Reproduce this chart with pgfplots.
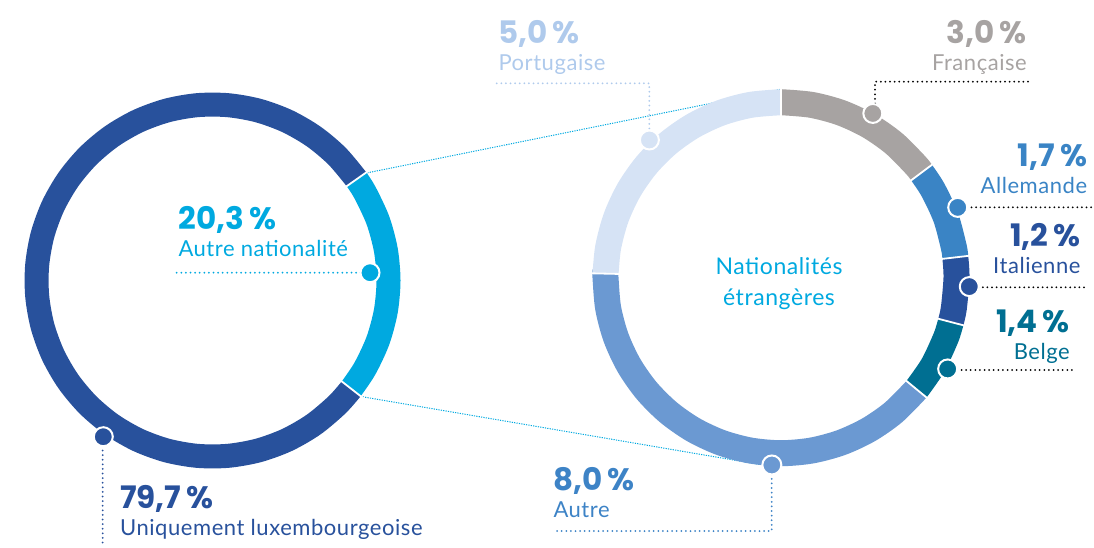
\documentclass[border=0pt]{standalone}
\usepackage{pgfplots}
\pgfplotsset{compat=1.18}
\usepackage{fontspec}
\setmainfont{Lato}[LetterSpace=2.5]
\newfontfamily\numfont{Poppins}

\definecolor{lux}{HTML}{28519C}
\definecolor{other}{HTML}{00A9E0}
\definecolor{portu}{HTML}{D6E3F5}
\definecolor{portutxt}{HTML}{AFCAEC}
\definecolor{fra}{HTML}{A7A3A2}
\definecolor{ger}{HTML}{3A84C5}
\definecolor{ita}{HTML}{28519C}
\definecolor{bel}{HTML}{006F92}
\definecolor{aut}{HTML}{6B99D2}
\definecolor{auttxt}{HTML}{3D83C6}
\definecolor{lead}{HTML}{B8B5B4}

\pgfplotsset{
  ring/.style={hide axis, anchor=origin, x=1pt, y=1pt,
    xmin=-200, xmax=200, ymin=-200, ymax=200, clip=false},
  seg/.style={data cs=polar, smooth, line cap=butt, no markers},
  sep/.style={data cs=polar, white, line width=1.8pt, no markers},
  dot/.style={data cs=polar, only marks, mark=*, mark size=9.5pt,
    mark options={fill=#1, draw=white, line width=2pt}},
}
\tikzset{
  lead/.style={line width=2pt, dash pattern=on 0pt off 4.6pt, line cap=round},
  link/.style={other, line width=1pt, dash pattern=on 1.2pt off 1.2pt},
  num/.style={inner sep=0pt, font=\numfont\bfseries\fontsize{31}{31}\selectfont},
  lbl/.style={inner sep=0pt, font=\fontsize{22}{22}\selectfont},
}

\begin{document}
\begin{tikzpicture}[x=1pt, y=-1pt]
% links between the two rings
\draw[link] (365,173.3) -- (781,89.2);
\draw[link] (358,396) -- (760,464.5);
% leader lines
\draw[lead, other] (176.7,272.7) -- (370,272.7);
\draw[lead, lux] (102.7,436.7) -- (102.7,547);
\draw[lead, portutxt] (496.7,83.3) -- (649.3,83.3) -- (649.3,140);
\draw[lead, lead] (1028,81.7) -- (875,81.7) -- (875,113);
\draw[lead, lead] (957.7,207.3) -- (1091.7,207.3);
\draw[lead, lead] (969,287.3) -- (1085,287.3);
\draw[lead, lead] (947.7,370) -- (1073.3,370);
\draw[lead, auttxt] (771.7,465) -- (771.7,531) -- (553,531);

% left ring: 79,7 % / 20,3 % (angles = share of 360 deg)
\begin{axis}[ring, at={(212.5pt,-280.5pt)}]
\addplot[seg, lux, line width=24pt] coordinates {
  (35.1,176) (45,176) (55,176) (65,176) (75,176) (85,176) (95,176)
  (105,176) (115,176) (125,176) (135,176) (145,176) (155,176) (165,176)
  (175,176) (185,176) (195,176) (205,176) (215,176) (225,176) (235,176)
  (245,176) (255,176) (265,176) (275,176) (285,176) (295,176) (305,176)
  (315,176) (322.02,176)};
\addplot[seg, other, line width=24pt] coordinates {
  (-37.98,176) (-30,176) (-20,176) (-10,176) (0,176) (10,176) (20,176)
  (30,176) (35.1,176)};
\addplot[sep] coordinates {(35.1,160) (35.1,192)};
\addplot[sep] coordinates {(-37.98,160) (-37.98,192)};
\addplot[dot=other] coordinates {(2.84,157.7)};
\addplot[dot=lux] coordinates {(235.04,190.6)};
\end{axis}

% right ring: 3,0 / 1,7 / 1,2 / 1,4 / 8,0 / 5,0 of 20,3 %
\begin{axis}[ring, at={(781pt,-277.7pt)}]
\addplot[seg, fra, line width=26pt] coordinates {
  (90,175.5) (80,175.5) (70,175.5) (60,175.5) (50,175.5) (40,175.5) (36.8,175.5)};
\addplot[seg, ger, line width=26pt] coordinates {
  (36.8,175.5) (30,175.5) (20,175.5) (10,175.5) (6.65,175.5)};
\addplot[seg, ita, line width=26pt] coordinates {
  (6.65,175.5) (0,175.5) (-10,175.5) (-14.63,175.5)};
\addplot[seg, bel, line width=26pt] coordinates {
  (-14.63,175.5) (-20,175.5) (-30,175.5) (-39.46,175.5)};
\addplot[seg, aut, line width=26pt] coordinates {
  (-39.46,175.5) (-50,175.5) (-60,175.5) (-70,175.5) (-80,175.5) (-90,175.5)
  (-100,175.5) (-110,175.5) (-120,175.5) (-130,175.5) (-140,175.5)
  (-150,175.5) (-160,175.5) (-170,175.5) (-180,175.5) (-181.33,175.5)};
\addplot[seg, portu, line width=26pt] coordinates {
  (-181.33,175.5) (-190,175.5) (-200,175.5) (-210,175.5) (-220,175.5)
  (-230,175.5) (-240,175.5) (-250,175.5) (-260,175.5) (-270,175.5)};
\addplot[sep] coordinates {(90,159) (90,192)};
\addplot[sep] coordinates {(36.8,159) (36.8,192)};
\addplot[sep] coordinates {(6.65,159) (6.65,192)};
\addplot[sep] coordinates {(-14.63,159) (-14.63,192)};
\addplot[sep] coordinates {(-39.46,159) (-39.46,192)};
\addplot[sep] coordinates {(-181.33,159) (-181.33,192)};
\addplot[dot=portu] coordinates {(133.7,190.5)};
\addplot[dot=fra] coordinates {(60.8,188.2)};
\addplot[dot=ger] coordinates {(21.7,190.2)};
\addplot[dot=ita] coordinates {(-2.7,188.5)};
\addplot[dot=bel] coordinates {(-28.7,190)};
\addplot[dot=aut] coordinates {(-92.8,187.5)};
\end{axis}

% labels
\node[num, anchor=base west, text=other] at (178.3,229) {20,3\,\%};
\node[lbl, anchor=base west, text=other] at (178.3,256.7) {Autre nationalité};
\node[num, anchor=base west, text=lux] at (120,508.3) {79,7\,\%};
\node[lbl, anchor=base west, text=lux] at (120,535) {Uniquement luxembourgeoise};
\node[num, anchor=base west, text=portutxt] at (498.3,43.3) {5,0\,\%};
\node[lbl, anchor=base west, text=portutxt] at (498.3,70) {Portugaise};
\node[num, anchor=base east, text=fra] at (1027,43.3) {3,0\,\%};
\node[lbl, anchor=base east, text=fra] at (1027,70) {Française};
\node[num, anchor=base east, text=ger] at (1087.3,166.7) {1,7\,\%};
\node[lbl, anchor=base east, text=ger] at (1087.3,193.3) {Allemande};
\node[num, anchor=base east, text=ita] at (1080.7,246) {1,2\,\%};
\node[lbl, anchor=base east, text=ita] at (1080.7,273) {Italienne};
\node[num, anchor=base east, text=bel] at (1070,332) {1,4\,\%};
\node[lbl, anchor=base east, text=bel] at (1070,359) {Belge};
\node[num, anchor=base west, text=auttxt] at (553.3,490) {8,0\,\%};
\node[lbl, anchor=base west, text=auttxt] at (553.3,517) {Autre};
\node[lbl, anchor=base, text=other, font=\fontsize{23}{23}\selectfont] at (779,274) {Nationalités};
\node[lbl, anchor=base, text=other, font=\fontsize{23}{23}\selectfont] at (779,305) {étrangères};

\pgfresetboundingbox
\path (0,0) rectangle (1094,547);
\end{tikzpicture}
\end{document}
